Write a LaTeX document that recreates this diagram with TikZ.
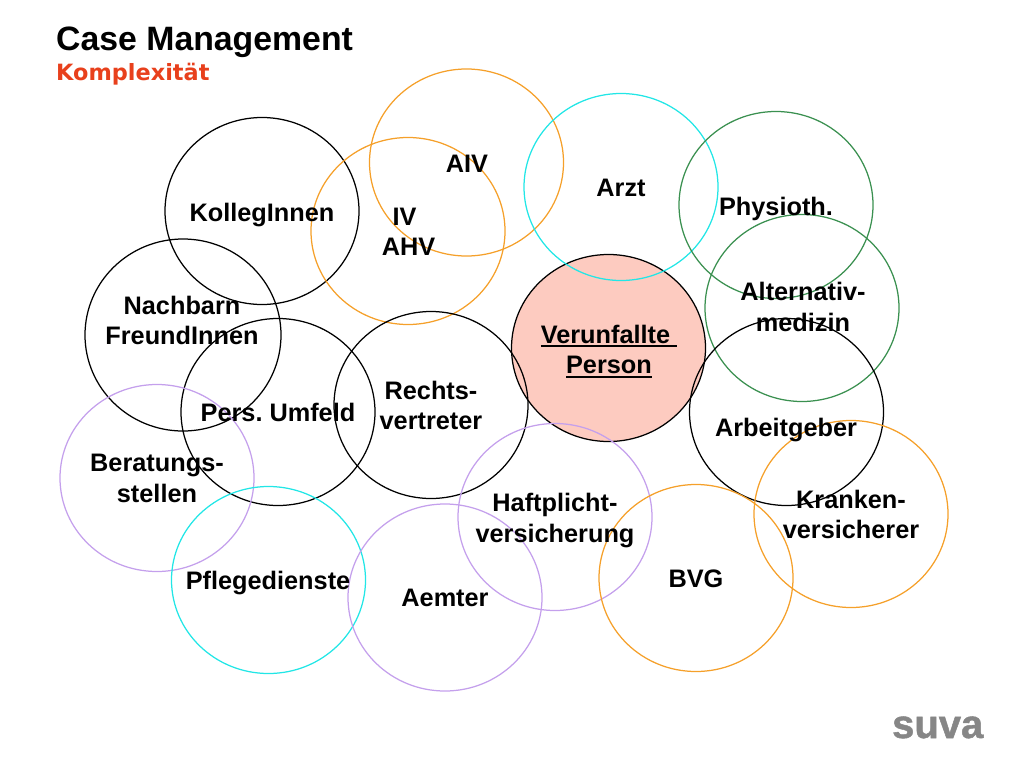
\documentclass[tikz,border=0pt]{standalone}
\usepackage{fontspec}
\usetikzlibrary{shapes.geometric}
\setmainfont{Liberation Sans}
\newfontfamily\logofont[FakeBold=1.2]{Liberation Sans Bold}
\definecolor{corange}{HTML}{F5A02A}
\definecolor{ccyan}{HTML}{22E6E6}
\definecolor{cgreen}{HTML}{3A9050}
\definecolor{cviolet}{HTML}{C4A0EC}
\definecolor{cred}{HTML}{E8401C}
\definecolor{cgrey}{HTML}{868686}
\definecolor{cpink}{HTML}{FDCBC0}
\newcommand{\sr}{\vrule height 21pt depth 9.5pt width 0pt}
\newcommand{\thickul}[1]{\setbox0\hbox{#1}\rlap{\vrule height -2pt depth 4pt width \wd0}\box0 }
\tikzset{
 x=1pt,y=-1pt,
 circ/.style={ellipse,draw=#1,line width=1.25pt,minimum width=194pt,minimum height=187pt,inner sep=0pt,outer sep=0pt},
 lab/.style={font=\bfseries\fontsize{25.3pt}{30.5pt}\selectfont,align=center,text=black,inner sep=0pt},
}
\begin{document}
\begin{tikzpicture}
\useasboundingbox (0,0) rectangle (1024,768);
\node[circ=black,fill=cpink] (c6) at (608.5,348) {};
\node[circ=corange] (c1) at (466.5,162.5) {};
\node[circ=ccyan] (c2) at (621,187) {};
\node[circ=cgreen] (c3) at (776,205) {};
\node[circ=black] (c4) at (262,211) {};
\node[circ=corange] (c5) at (408,231) {};
\node[circ=black,minimum width=196pt,minimum height=192pt] (c7) at (183,335) {};
\node[circ=cgreen] (c8) at (802,308) {};
\node[circ=black] (c9) at (278,412) {};
\node[circ=black] (c10) at (431,405) {};
\node[circ=black] (c11) at (786.5,412) {};
\node[circ=cviolet] (c12) at (157,478) {};
\node[circ=cviolet] (c13) at (555,517) {};
\node[circ=corange] (c14) at (851,514) {};
\node[circ=ccyan] (c15) at (268.5,580) {};
\node[circ=cviolet] (c16) at (445,597.5) {};
\node[circ=corange] (c17) at (696,578) {};
\node[lab] (t1) at (467,166.25) {\sr AIV};
\node[lab] (t2) at (621,190.25) {\sr Arzt};
\node[lab] (t3) at (776,209.25) {\sr Physioth.};
\node[lab] (t4) at (262,215.25) {\sr KollegInnen};
\node[lab] (t5) at (408.5,234.5) {\sr IV\hbox to 8pt{}\\\sr AHV};
\node[lab] (t6) at (182,323.5) {\sr Nachbarn\\\sr FreundInnen};
\node[lab] (t7) at (803,310.2) {\sr Alternativ-\\\sr medizin};
\node[lab] (t8) at (609,352.5) {\sr\thickul{Verunfallte\ }\\\sr\thickul{Person}};
\node[lab] (t9) at (278,415.25) {\sr Pers.\ Umfeld};
\node[lab] (t10) at (431,408.8) {\sr Rechts-\\\sr vertreter};
\node[lab] (t11) at (786,430.25) {\sr Arbeitgeber};
\node[lab] (t12) at (157,481.2) {\sr Beratungs-\\\sr stellen};
\node[lab] (t13) at (555,521.2) {\sr Haftplicht-\\\sr versicherung};
\node[lab] (t14) at (851,517.8) {\sr Kranken-\\\sr versicherer};
\node[lab] (t15) at (268,583.25) {\sr Pflegedienste};
\node[lab] (t16) at (445,601) {\sr Aemter};
\node[lab] (t17) at (696,581.5) {\sr BVG};
\node[anchor=base west,inner sep=0pt,font=\bfseries\fontsize{33.8pt}{36pt}\selectfont] (title) at (56,50.5) {Case Management};
\node[anchor=base west,inner sep=0pt,text=cred,font={\fontspec{DejaVu Sans}\bfseries\fontsize{22.4pt}{24pt}\selectfont}] (sub) at (56,80) {Komplexität};
\node[anchor=base east,inner sep=0pt,text=cgrey,font={\logofont\fontsize{40pt}{42pt}\selectfont}] (logo) at (983.5,738) {suva};
\end{tikzpicture}
\end{document}
